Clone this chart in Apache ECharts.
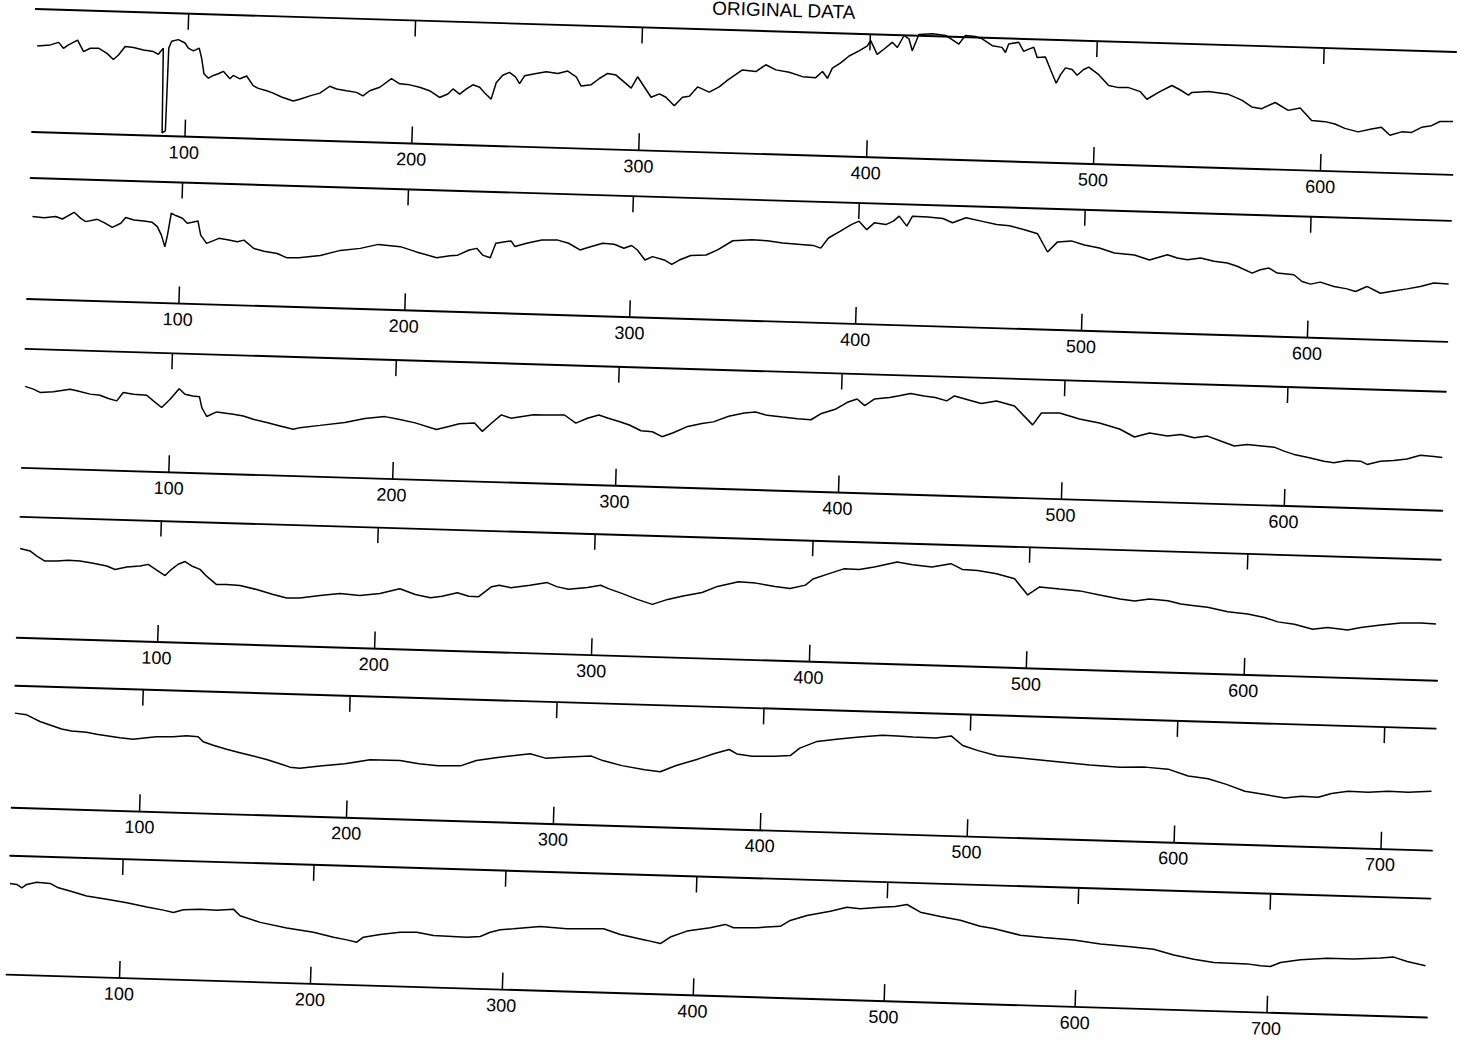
<!DOCTYPE html>
<html>
<head>
<meta charset="utf-8">
<script src="https://cdn.jsdelivr.net/npm/echarts@6/dist/echarts.min.js"></script>
<style>
html,body{margin:0;padding:0;background:#fff;width:1468px;height:1042px;overflow:hidden;}
#chart{position:absolute;left:0;top:0;width:1468px;height:1080px;transform-origin:0 0;transform:translate(0.91px,-30px) rotate(1.73deg);}
</style>
</head>
<body>
<div id="chart"></div>
<script>
// ---- data (sample index, amplitude) ----
const panel1X = [34.1,39.9,43.5,45.7,47.9,51.8,54.6,57.5,61.1,64.9,67.8,70,72.8,76.5,80.9,85.3,87.5,89.6,90.2,91.6,92.0,93.2,96.1,99.1,100.6,102.9,105.4,106.6,107.8,109.8,112,114.1,116.3,119.3,120.7,123.7,126.6,129.6,131.9,135.6,138.5,142.2,147.4,150.3,154.7,159,163.3,166.3,170.7,175.1,178,180.9,185.3,190.3,194,198.4,202.8,207.2,211.7,215.3,217.5,220.5,223.4,226.2,229.2,231.5,234.4,236.4,239.2,242.1,244.8,246.7,248.8,253.9,258.3,263.4,267.7,271.5,273.8,278.2,281.7,285.3,289,293.5,295.8,298.5,301.6,304.7,308.3,311.2,315,318.5,321.5,325,330.2,334.5,338.1,344.5,350.4,354.7,359.2,365.1,371,376.8,379.7,382,384,387.6,391.2,395.5,399.1,400.5,403.5,406.4,410,412.3,415.1,417.3,418.9,421.6,427.5,433.4,439.3,442.1,446.5,449.5,454,458.3,459.9,461.2,465.6,467.9,470.1,472.3,473.9,477.5,479.9,482.6,484.4,486.5,489.4,491.7,494.5,496.7,501.2,505.7,510.1,514.5,519.7,522.7,527.7,533.5,537.3,540.9,542.4,549.7,558.5,564.4,568.9,573.3,579.1,585,590.2,595.4,601.3,605.7,610.1,616,621.8,626.2,630,635.1,639.5,643.8,648.2,651.8,657.6];
const panel1Y = [84.1,85.5,88.2,82.6,86.1,91,79.9,83.4,83.7,78.9,73.1,77.6,86.2,85.4,83.3,82,79.5,85.6,3,5,86,92.6,94.4,91.3,86.4,83.9,86.7,76.8,61.9,57.7,60.5,62.3,64.8,57.7,61.1,58,60.9,51.7,49.2,47.1,45,41.5,37.9,39.8,43.4,46.4,53.4,50.9,49.5,48.2,45,50.2,53.9,62.6,57.8,57.1,55.1,52,45.7,49.3,54.4,49.6,54.8,59,56.9,51.4,45.6,61.7,69.2,72.2,68.1,61.5,69.3,72,74,72.6,75.2,69.9,61,62.6,68.9,74.1,72.7,64.7,60.5,71.7,61.9,52.1,55.7,52.6,44.5,53.1,54.3,63.6,58.9,64.2,71.1,81.5,80.3,87.2,82.5,80.6,76.7,76.1,82.3,75.8,85.9,91.2,98.2,103.5,108.7,113.8,100.6,105.8,112.8,107.9,119.8,116.6,105.1,121.3,122.3,121.1,113.1,121.7,121,118.8,112.5,111.1,106.2,114.6,116.6,107.8,110.2,112.1,102.2,103.1,90.9,77.7,86.2,93,91.5,86.1,91.9,94.4,87.3,77,75.3,75.6,72,64.8,71.8,78.9,74.8,70.1,72.8,74.1,72,66.7,60.4,59,65.4,58.1,60.8,48.8,48.2,46.2,42.2,39.2,42.3,44.3,36.9,40.5,40.2,45.5,47.4,51.7,52.1];

const panel2X = [34.3,39.5,44.6,47.6,52.7,55.7,58,63.1,66.1,69.8,73.5,75.6,79.3,83.7,87.4,89.7,91.6,93.3,94.3,95.7,97.7,100.7,102.9,105.1,107.6,109,111.7,114.2,117.1,121.5,125.3,128.2,132.7,137.2,143.1,147.5,152.7,162.2,171,179.8,187.7,197.5,204.3,213.7,219.6,223,228,231.3,234,237.4,239.7,246.4,248.2,253.3,260,266.7,271.9,277,282,287,292.1,296.4,299.8,302.4,305.9,309.2,314.4,317.8,321.1,326.1,332.9,337.9,344.5,353,359.8,366.6,373.3,380.1,383.5,386.8,391.8,396.7,400.1,403.6,406.9,412,415.3,417.8,421.3,423.7,430.5,437.2,441.5,447.4,454.2,461,466.7,473.4,479.3,483.9,488.2,494.3,500.1,506.8,513.5,522.4,529.1,537,541.4,545.9,551.7,557.7,563.6,568,574.7,578.3,582.1,585.8,593.2,596.9,600.7,605,611.1,616.9,620.7,625.7,631.7,637.6,643.5,649.3,655.2,661.8];
const panel2Y = [81.8,81.1,82.5,80.3,87.3,81.5,78.4,81,78,73.5,77.8,83.6,81.5,80.8,79.7,75.6,67.3,55.8,67.5,89.3,87.1,84.6,79.8,80.9,82.4,68.5,60.4,62.9,65.8,64.4,63,64.8,56.8,54.4,52.5,48.5,48.9,51.9,57.5,60.1,64.6,63,58.5,53.1,55.5,56.3,61.7,63.6,57.1,54.7,69.2,72,66.5,70.2,73.9,74.4,71.4,65.1,68.8,72.5,71.8,68.1,71.1,66.8,57.1,60.7,57.7,53.6,58.1,62.9,63.9,69.3,78.8,80.3,79.8,78,77.4,76.6,74.1,84.4,91.4,98.4,102,93.8,100.8,99.4,103.1,108.2,98.5,108.6,108.1,107.2,103.2,108.6,105.7,102.8,101.9,98.4,94.8,77.1,87.4,88.8,85.2,82.6,78.1,76.7,72.2,78,75,73.6,75.7,72.8,71.6,68.6,62.3,65.9,67.8,63.1,61.9,55.5,53.1,55.4,51.5,49.5,47.2,52.5,46.2,48.9,51.3,54.1,57.9,57.3];

const panel3X = [34.3,38.1,41.1,47.1,54.5,57.6,63.6,68,71.8,75.6,78.4,83,89,92,95.8,99.5,103.4,106.1,109.6,112.6,113.8,116.1,120.5,128,132.5,137,143.1,149.1,155.1,158,167,178.1,187,196,202.7,209.6,219.2,225.1,229.4,236.2,239.8,243.9,248.1,252.4,262.6,267.8,276.4,281.6,286.7,291.8,296.1,301.3,305.6,310.9,316,320.4,325.4,331.3,338.1,343.2,350,356.9,362,367.2,374.1,380.9,386.9,391.2,398,403,407.3,410.8,415,421.8,426.1,431.2,437.2,442.3,447.5,450.9,456.1,463,469.8,477.9,486.3,490.1,498.2,507.2,516.2,525.3,532.1,538.8,546.9,552.8,558.9,564.8,570.8,576.9,582.8,590.3,594.8,599.3,603.8,609.7,617.3,621.8,627.7,633.7,636.7,642.6,648.6,654.5,660.4,666.6,670.3];
const panel3Y = [82.2,79.7,76.6,77.6,80.8,79.3,76.4,75.6,72.6,70.4,79,77.6,77,71.5,65.1,73.6,84.6,79.1,77.6,77.2,66.2,57.4,62.3,60.4,59,56,53.1,50.1,47.1,49,51.9,55.6,60.2,62.7,60.2,57.3,51.2,54.9,57.8,59,50.8,59.5,68,65,69,69.3,69.8,61.9,67.2,70.8,67.8,64.7,61.7,56.3,55.6,50.9,55.2,61.6,65.4,67.4,73.5,77.2,78.6,75.6,74.3,73.2,72.5,78.8,84.2,91.2,94.8,88.4,95.3,97.4,99.3,102,100,98.7,95.7,100.9,97.9,94,97.1,92.6,74.1,86.4,86.9,81.5,78,72.6,65,69.5,67,69,66,68.1,63.5,58.9,60.9,59.7,59,55.3,52.3,49.9,46.4,45,47.8,47.5,44.4,48,49.1,51.1,55.2,54.5,53.8];

const panel4X = [35.8,40.4,43.6,47.4,52.8,58.1,63.5,69.6,75.9,79.7,85.1,91.2,94.9,98.9,102.8,105.7,108.7,111.8,114.9,118.8,121.9,126.6,131.2,137.4,145.1,152.8,159,165.1,174.3,183.4,192.6,201.8,210.9,218.1,225.1,230.4,237.4,242.7,247.1,253.1,256.6,261.9,270.7,278.6,283,288.4,297.1,303.2,306.8,313,320.2,327.2,334.2,341.2,349.9,356.9,366.5,374.4,383.3,390.3,397.3,400.7,407.7,414.7,421.8,428.7,439.2,446.3,455.2,463.9,469.2,476.3,485,493.4,499.6,505,514.2,523.5,532.7,542,548.9,555.7,564.1,570.2,576.4,582.5,591.8,601,608.7,614.9,622.6,631.1,637.9,647.2,653.2,662.4,671.6,680.8,687.7];
const panel4Y = [88.2,86.1,81.3,76.6,76.9,78,77.6,75.8,73.5,70.4,73.1,74.5,76.4,71,65.9,72.2,77.4,80.3,76.1,73,66.5,58.5,58.8,58.2,54.8,50.3,47.4,47.8,50.7,53.3,51.9,54.5,59.8,54.6,51.8,53.7,57.6,54.5,54.2,64.6,66.2,64.2,67.1,70.3,66.6,64.3,66.6,69.3,66.2,61.9,56.4,51.9,57.3,61.1,65.1,71.6,76.8,76,73.3,71.8,75.5,81.8,87.3,92.7,92.5,95.4,101.1,98.8,97.1,101,95.7,95.1,92.4,88,72.4,80.7,79.3,78,74.6,71.2,69.6,72.1,70.9,68,66.8,65.6,61.8,60.1,57.3,53.3,51.5,47.1,49.2,47.4,50.3,53.2,55.8,56.4,55.9];

const panel5X = [38.2,43.9,47.1,50.4,55.3,61,65.8,73.1,78,82.8,89.3,95.7,102.2,107,115,121.5,127.1,129.6,134.5,141,147.5,154,160.5,167,171.9,176.7,186.4,198.4,210.5,225,234.2,243.5,254.6,261.9,273,280.4,287.8,295.2,306.3,317.4,323,332.3,343.4,350.9,358.2,369.2,376.5,383.9,387.7,395.1,406.1,413.5,418,426.3,435.6,446.6,457.7,465.1,472.5,483.6,491,496.7,504.2,513.4,529.5,544,558.5,573,585.1,596.3,606.1,615.8,624.7,633.7,643.4,653.1,661.1,669.2,675.6,683.6,693.3,703,712.6,723.9];
const panel5Y = [93,91.7,88.6,85.5,82.4,78.7,77,76.2,74.5,73.4,71.8,70.8,72.6,73.9,74.4,75.8,75.2,70.3,67.2,63.6,60.7,57.8,54.8,50.9,47.9,47.2,50,52.8,57.5,57.7,55,53.8,54.5,60,64,66.1,68.2,64.4,66.1,67.8,63.7,59.3,55.9,54.4,60.8,68.2,73.7,78.4,74.3,72.5,73.2,74.2,81.9,89,91.6,94.6,96.9,96.8,96.2,95.9,98.4,89.3,84.7,80.3,78,75.9,73.8,72.6,73.4,72.1,65.9,63.9,58.8,52.6,49.9,47.2,49.3,48.8,52.9,55.7,55.3,56.8,56.4,58.1];

const panel6X = [41.3,44.9,47.6,50.1,55.3,62.3,66.7,72.8,81.6,92.2,102.7,113.2,121.9,127.2,132.4,141.1,149.9,158.5,162.1,172.7,186.7,200.7,211.3,218.3,223.5,226.9,235.6,246,254.7,263.5,281,287.9,293.1,298.3,305.2,319.2,333.1,352.3,361.1,375.1,382.2,387.3,395.9,408,415.8,420.2,432.4,444.6,449.7,458.4,470.5,479.2,486.1,496.6,504.4,510.5,517.6,528.1,538.6,549.1,556.1,570.2,582.4,598.2,612.2,627.9,640.1,650.7,661.2,671.7,689.2,696.2,701.4,706.6,717,730.9,744.8,758.8,765.7,772.8,782.4];
const panel6Y = [92,91.2,88,91.5,94.1,93.3,89.1,86.2,81.7,79,76.2,72.5,69.8,67.7,70.7,71.9,71.4,72.9,66.4,60.4,55.6,52,47.6,45.4,43.4,48.6,51.8,54.7,55.2,52.4,51.8,52.9,57.5,60.2,61.6,64.7,63.3,64.4,59.2,54,51.2,58.1,64.6,68.7,72.5,69.4,70.2,72.2,78.5,84,89,93.5,92.4,94.6,95.7,98.1,90.8,87.1,83.8,78.4,76.5,70.6,69,67.3,64.1,62.3,60.5,55.4,51.7,48.9,48.6,47.1,46.7,51,54.3,56.8,56.7,58.5,59.9,55.9,52.2];

// axis ranges and tick labels
const xMinValues = [33, 33, 34, 35.5, 38, 41];
const xMaxValues = [658, 662, 671, 689, 725, 784];
const ticksShort = [100, 200, 300, 400, 500, 600];
const ticksLong = [100, 200, 300, 400, 500, 600, 700];
const panelTicks = [ticksShort, ticksShort, ticksShort, ticksShort, ticksLong, ticksLong];
const titleText = 'ORIGINAL DATA';

// ---- layout (not data) ----
const gridTops = [38, 207, 378, 545.5, 715, 885];
const gridHeights = [123, 121, 119, 121.5, 121.6, 119];

const seriesX = [panel1X, panel2X, panel3X, panel4X, panel5X, panel6X];
const seriesY = [panel1Y, panel2Y, panel3Y, panel4Y, panel5Y, panel6Y];

const ink = '#000';
const font = 'Liberation Sans, Arial, sans-serif';

const grids = [], xAxes = [], yAxes = [], series = [];
for (let i = 0; i < 6; i++) {
  grids.push({left: 36, width: 1421, top: gridTops[i], height: gridHeights[i], containLabel: false, outerBoundsMode: 'none', show: false});
  const common = {
    gridIndex: i, type: 'value', min: xMinValues[i], max: xMaxValues[i],
    splitLine: {show: false},
    axisLine: {show: true, onZero: false, lineStyle: {color: ink, width: 1.9}}
  };
  xAxes.push(Object.assign({}, common, {
    position: 'bottom',
    axisTick: {show: true, inside: true, length: 17, customValues: panelTicks[i], lineStyle: {color: ink, width: 1.5}},
    axisLabel: {show: true, customValues: panelTicks[i], color: ink, fontSize: 18, fontFamily: font, margin: 7}
  }));
  xAxes.push(Object.assign({}, common, {
    position: 'top',
    axisTick: {show: true, inside: true, length: 16, customValues: panelTicks[i], lineStyle: {color: ink, width: 1.5}},
    axisLabel: {show: false}
  }));
  yAxes.push({gridIndex: i, type: 'value', min: 0, max: 120, show: false, splitLine: {show: false}});
  series.push({
    type: 'line', xAxisIndex: 2 * i, yAxisIndex: i,
    data: seriesX[i].map((x, j) => [x, seriesY[i][j]]),
    showSymbol: false, symbol: 'none', clip: false, silent: true,
    lineStyle: {color: ink, width: 1.5}
  });
}

const chart = echarts.init(document.getElementById('chart'), null, {renderer: 'svg'});
chart.setOption({
  animation: false,
  backgroundColor: '#fff',
  title: {text: titleText, left: 712, top: 7, padding: 0,
    textStyle: {fontSize: 19, fontWeight: 'normal', color: ink, fontFamily: font}},
  grid: grids, xAxis: xAxes, yAxis: yAxes, series: series
});
</script>
</body>
</html>
